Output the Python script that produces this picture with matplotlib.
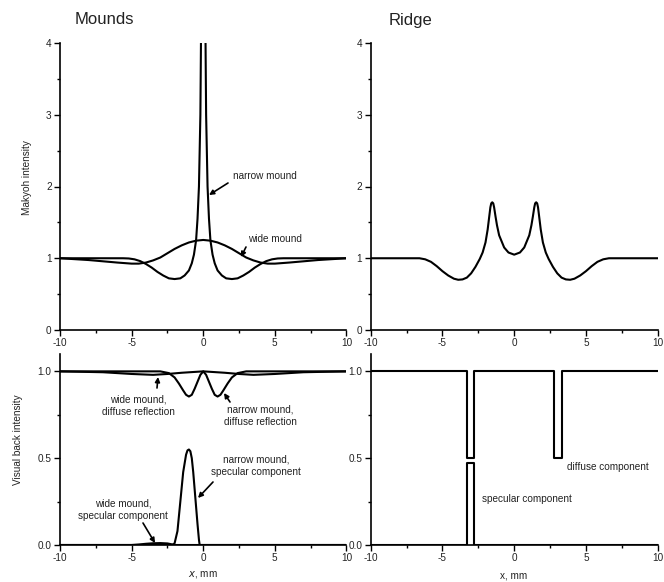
import matplotlib
matplotlib.use('Agg')
import matplotlib.pyplot as plt
from matplotlib.ticker import MultipleLocator, FormatStrFormatter

plt.rcParams['font.family'] = ['Liberation Sans', 'DejaVu Sans']
plt.rcParams['axes.unicode_minus'] = False

# --- top left: Makyoh intensity, mounds ---
wide_x = [-10, -8, -6, -5, -4.5, -4, -3.5, -3, -2.5, -2, -1.5, -1, -0.5, 0,
          0.5, 1, 1.5, 2, 2.5, 3, 3.5, 4, 4.5, 5, 6, 8, 10]
wide_y = [1.0, 0.975, 0.94, 0.925, 0.925, 0.94, 0.97, 1.01, 1.07, 1.13, 1.18, 1.22, 1.245, 1.255,
          1.245, 1.22, 1.18, 1.13, 1.07, 1.01, 0.97, 0.94, 0.925, 0.925, 0.94, 0.975, 1.0]

narrow_x = [-10, -5.6, -5.2, -4.8, -4.4, -4.0, -3.6, -3.2, -2.8, -2.4, -2.0, -1.6, -1.3, -1.0,
            -0.8, -0.65, -0.5, -0.4, -0.3, -0.2, -0.16, -0.1, 0,
            0.1, 0.16, 0.2, 0.3, 0.4, 0.5, 0.65, 0.8,
            1.0, 1.3, 1.6, 2.0, 2.4, 2.8, 3.2, 3.6, 4.0, 4.4, 4.8, 5.2, 5.6, 10]
narrow_y = [1.0, 1.0, 0.997, 0.985, 0.96, 0.92, 0.87, 0.81, 0.76, 0.72, 0.71, 0.72, 0.76, 0.83,
            0.93, 1.05, 1.25, 1.55, 2.0, 3.0, 4.0, 6.0, 10.0,
            6.0, 4.0, 3.0, 2.0, 1.55, 1.25, 1.05, 0.93,
            0.83, 0.76, 0.72, 0.71, 0.72, 0.76, 0.81, 0.87, 0.92, 0.96, 0.985, 0.997, 1.0, 1.0]

# --- top right: Makyoh intensity, ridge ---
ridge_x = [-10, -6.6, -6.2, -5.8, -5.4, -5.0, -4.6, -4.2, -3.9, -3.6, -3.3, -3.0, -2.7, -2.4,
           -2.2, -2.0, -1.85, -1.74, -1.66, -1.6, -1.53, -1.46, -1.4, -1.3, -1.2, -1.05, -0.7, -0.4, 0,
           0.4, 0.7, 1.05, 1.2, 1.3, 1.4, 1.46, 1.53, 1.6, 1.66, 1.74, 1.85, 2.0, 2.2,
           2.4, 2.7, 3.0, 3.3, 3.6, 3.9, 4.2, 4.6, 5.0, 5.4, 5.8, 6.2, 6.6, 10]
ridge_y = [1.0, 1.0, 0.985, 0.95, 0.89, 0.82, 0.76, 0.715, 0.70, 0.705, 0.73, 0.79, 0.88, 0.99,
           1.08, 1.22, 1.40, 1.58, 1.71, 1.765, 1.78, 1.765, 1.71, 1.58, 1.46, 1.32, 1.15, 1.08, 1.05,
           1.08, 1.15, 1.32, 1.46, 1.58, 1.71, 1.765, 1.78, 1.765, 1.71, 1.58, 1.40, 1.22, 1.08,
           0.99, 0.88, 0.79, 0.73, 0.705, 0.70, 0.715, 0.76, 0.82, 0.89, 0.95, 0.985, 1.0, 1.0]

# --- bottom left: visual back intensity, mounds ---
wide_diff_x = [-10, -7, -5, -3.5, -2.5, -1.5, 0, 1.5, 2.5, 3.5, 5, 7, 10]
wide_diff_y = [1.0, 0.995, 0.985, 0.98, 0.985, 0.992, 1.0, 0.992, 0.985, 0.98, 0.985, 0.995, 1.0]

narrow_diff_x = [-10, -3, -2.4, -2.0, -1.7, -1.4, -1.2, -1.0, -0.8, -0.6, -0.4, -0.2, 0,
                 0.2, 0.4, 0.6, 0.8, 1.0, 1.2, 1.4, 1.7, 2.0, 2.4, 3, 10]
narrow_diff_y = [1.0, 1.0, 0.99, 0.965, 0.93, 0.89, 0.865, 0.855, 0.865, 0.9, 0.94, 0.98, 1.0,
                 0.98, 0.94, 0.9, 0.865, 0.855, 0.865, 0.89, 0.93, 0.965, 0.99, 1.0, 1.0]

narrow_spec_x = [-10, -2.15, -2.0, -1.8, -1.6, -1.4, -1.2, -1.1, -1.0, -0.9, -0.8, -0.7, -0.55, -0.4, -0.3, -0.25, 10]
narrow_spec_y = [0.0, 0.0, 0.01, 0.08, 0.25, 0.42, 0.52, 0.545, 0.55, 0.54, 0.5, 0.42, 0.27, 0.12, 0.03, 0.0, 0.0]

wide_spec_x = [-10, -5, -4.5, -4, -3.5, -3, -2.5, -2.2, -2, 10]
wide_spec_y = [0.0, 0.0, 0.003, 0.007, 0.01, 0.011, 0.009, 0.004, 0.0, 0.0]

# --- bottom right: visual back intensity, ridge (step profiles) ---
ridge_diff_x = [-10, -3.3, -3.3, -2.8, -2.8, 2.8, 2.8, 3.3, 3.3, 10]
ridge_diff_y = [1.0, 1.0, 0.5, 0.5, 1.0, 1.0, 0.5, 0.5, 1.0, 1.0]
ridge_spec_x = [-10, -3.3, -3.3, -2.8, -2.8, 10]
ridge_spec_y = [0.0, 0.0, 0.475, 0.475, 0.0, 0.0]

TXT = '#222222'
LW = 1.5
FS = 7.2

fig = plt.figure(figsize=(6.64, 5.82), dpi=100)
W, H = 664, 582


def px(x, y):
    # figure pixels (from top-left) -> figure fraction
    return (x / W, 1 - y / H)


def make_ax(l, r, t, b):
    ax = fig.add_axes([l / W, 1 - b / H, (r - l) / W, (b - t) / H])
    for s in ['top', 'right']:
        ax.spines[s].set_visible(False)
    for s in ['left', 'bottom']:
        ax.spines[s].set_linewidth(1.2)
    ax.tick_params(which='major', direction='out', length=4, width=1, labelsize=FS,
                   labelcolor=TXT, pad=2)
    ax.tick_params(which='minor', direction='out', length=2.5, width=1)
    ax.set_xlim(-10, 10)
    ax.xaxis.set_major_locator(MultipleLocator(5))
    ax.xaxis.set_minor_locator(MultipleLocator(2.5))
    return ax


ax1 = make_ax(60, 346.5, 43, 330)
ax2 = make_ax(370.7, 657.7, 43, 330)
ax3 = make_ax(60, 346.5, 354, 545)
ax4 = make_ax(370.7, 657.7, 354, 545)

for ax in (ax1, ax2):
    ax.set_ylim(0, 4)
    ax.yaxis.set_major_locator(MultipleLocator(1))
    ax.yaxis.set_minor_locator(MultipleLocator(0.5))
for ax in (ax3, ax4):
    ax.set_ylim(0, 1.1)
    ax.yaxis.set_major_locator(MultipleLocator(0.5))
    ax.yaxis.set_minor_locator(MultipleLocator(0.25))
    ax.yaxis.set_major_formatter(FormatStrFormatter('%.1f'))

# curves
ax1.plot(wide_x, wide_y, color='black', lw=LW)
ax1.plot(narrow_x, narrow_y, color='black', lw=LW)
ax2.plot(ridge_x, ridge_y, color='black', lw=LW)
ax3.plot(wide_diff_x, wide_diff_y, color='black', lw=LW)
ax3.plot(narrow_diff_x, narrow_diff_y, color='black', lw=LW)
ax3.plot(narrow_spec_x, narrow_spec_y, color='black', lw=LW)
ax3.plot(wide_spec_x, wide_spec_y, color='black', lw=LW)
ax4.plot(ridge_diff_x, ridge_diff_y, color='black', lw=LW)
ax4.plot(ridge_spec_x, ridge_spec_y, color='black', lw=LW)

# titles
fig.text(*px(75, 20), 'Mounds', fontsize=12, color=TXT, va='center', ha='left')
fig.text(*px(389, 20), 'Ridge', fontsize=12, color=TXT, va='center', ha='left')

# axis labels
fig.text(*px(27, 178), 'Makyoh intensity', fontsize=FS, color=TXT,
         rotation=90, ha='center', va='center')
fig.text(*px(18, 440), 'Visual back intensity', fontsize=FS, color=TXT,
         rotation=90, ha='center', va='center')
fig.text(*px(203, 575), '$\\it{x}$, mm', fontsize=FS, color=TXT, ha='center', va='center')
fig.text(*px(514, 575), 'x, mm', fontsize=FS, color=TXT, ha='center', va='center')

arrow = dict(arrowstyle='-|>', color='black', lw=1.2, mutation_scale=7,
             shrinkA=0, shrinkB=0)


def arr(start, end):
    fig.add_artist(matplotlib.patches.FancyArrowPatch(
        px(*start), px(*end), transform=fig.transFigure, **arrow))


def label(x, y, text, ha='center'):
    fig.text(*px(x, y), text, fontsize=FS, color=TXT, ha=ha, va='center',
             linespacing=1.3)


label(233, 176, 'narrow mound', ha='left')
arr((228, 183), (209, 195))
label(248, 239, 'wide mound', ha='left')
arr((246, 247), (241, 257))

label(138, 406, 'wide mound,\ndiffuse reflection')
arr((157, 388), (158, 377))
label(260, 416, 'narrow mound,\ndiffuse reflection')
arr((230, 402), (224, 393))
label(256, 466, 'narrow mound,\nspecular component')
arr((213, 482), (198, 498))
label(123, 510, 'wide mound,\nspecular component')
arr((143, 523), (155, 543))

label(567, 467, 'diffuse component', ha='left')
label(482, 499, 'specular component', ha='left')

plt.savefig('out.png', dpi=100)
